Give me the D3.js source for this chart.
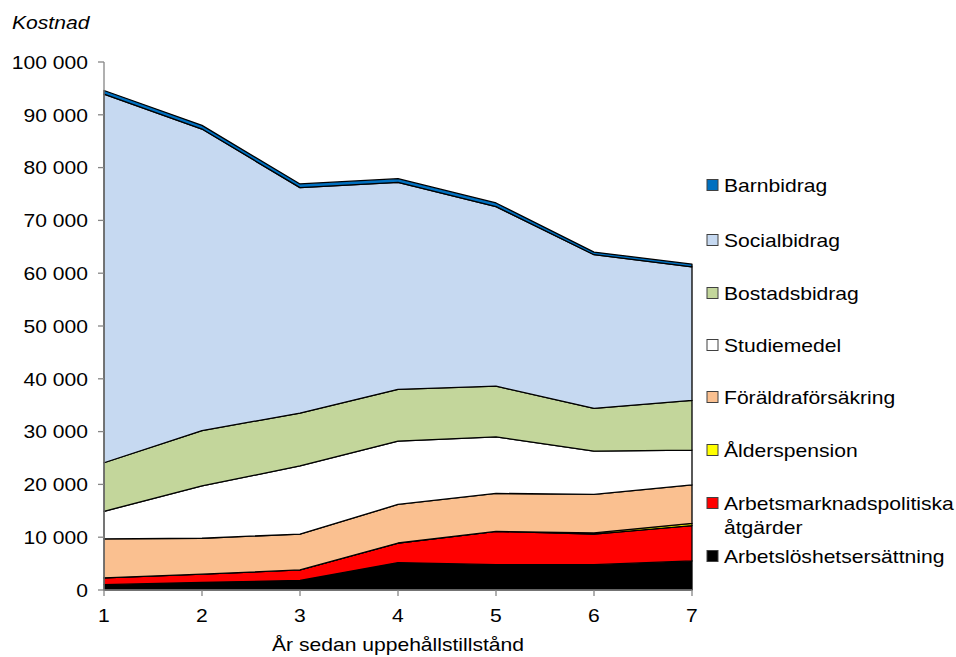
<!DOCTYPE html>
<html>
<head>
<meta charset="utf-8">
<script src="https://cdn.jsdelivr.net/npm/d3@7"></script>
<style>
  body { margin: 0; background: #fff; }
  text { font-family: "Liberation Sans", Arial, sans-serif; fill: #000; }
</style>
</head>
<body>
<svg id="chart" width="956" height="657"></svg>
<script>
const years = [1, 2, 3, 4, 5, 6, 7];
const seriesNames = ["Arbetslöshetsersättning", "Arbetsmarknadspolitiska åtgärder", "Ålderspension",
  "Föräldraförsäkring", "Studiemedel", "Bostadsbidrag", "Socialbidrag", "Barnbidrag"];
const arbetsloshet   = [1000, 1450, 1800, 5200, 4800, 4800, 5500];
const arbetsmarknad  = [1300, 1550, 2000, 3700, 6300, 5800, 6700];
const alderspension  = [0, 0, 0, 0, 0, 200, 400];
const foraldra       = [7400, 6800, 6800, 7300, 7200, 7300, 7300];
const studiemedel    = [5200, 9900, 12900, 12000, 10700, 8200, 6600];
const bostadsbidrag  = [9200, 10500, 10000, 9800, 9600, 8100, 9400];
const socialbidrag   = [69800, 57100, 42700, 39200, 34000, 29100, 25300];
const barnbidrag     = [700, 700, 700, 700, 700, 500, 500];
const colors = ["#000000", "#FF0000", "#FFFF00", "#FAC090", "#FFFFFF", "#C3D69B", "#C6D9F1", "#0070C0"];
const yTicks = [0, 10000, 20000, 30000, 40000, 50000, 60000, 70000, 80000, 90000, 100000];

const seriesValues = [arbetsloshet, arbetsmarknad, alderspension, foraldra, studiemedel, bostadsbidrag, socialbidrag, barnbidrag];
const table = years.map((yr, i) => {
  const row = { year: yr };
  seriesNames.forEach((n, k) => row[n] = seriesValues[k][i]);
  return row;
});

const svg = d3.select("#chart");
const x = d3.scaleLinear().domain([1, 7]).range([104, 692]);
const y = d3.scaleLinear().domain([0, 100000]).range([590, 62]);
const fmt = d3.formatLocale({ decimal: ",", thousands: " ", grouping: [3], currency: ["", ""] }).format(",");

const stack = d3.stack().keys(seriesNames);
const layers = stack(table);
const area = d3.area().x(d => x(d.data.year)).y0(d => y(d[0])).y1(d => y(d[1]));

svg.append("g").selectAll("path").data(layers).join("path")
  .attr("d", area)
  .attr("fill", (d, i) => colors[i])
  .attr("stroke", "#000")
  .attr("stroke-width", 1.3)
  .attr("stroke-linejoin", "round");

// Y axis
const yAxis = svg.append("g");
yAxis.append("line").attr("x1", 104).attr("x2", 104).attr("y1", y(0)).attr("y2", y(100000))
  .attr("stroke", "#868686").attr("stroke-width", 1.3);
yAxis.selectAll("line.t").data(yTicks).join("line").attr("class", "t")
  .attr("x1", 98).attr("x2", 104).attr("y1", d => y(d)).attr("y2", d => y(d))
  .attr("stroke", "#868686").attr("stroke-width", 1.3);
yAxis.selectAll("text").data(yTicks).join("text")
  .attr("class", "st")
  .attr("x", 88).attr("y", d => y(d) + 6.7)
  .attr("text-anchor", "end").attr("font-size", 18.5)
  .text(d => fmt(d));

// X axis
const xAxis = svg.append("g");
xAxis.append("line").attr("x1", 104).attr("x2", 692).attr("y1", y(0)).attr("y2", y(0))
  .attr("stroke", "#868686").attr("stroke-width", 1.3);
xAxis.selectAll("line.t").data(years).join("line").attr("class", "t")
  .attr("x1", d => x(d)).attr("x2", d => x(d)).attr("y1", y(0)).attr("y2", y(0) + 6)
  .attr("stroke", "#868686").attr("stroke-width", 1.3);
xAxis.selectAll("text").data(years).join("text")
  .attr("class", "st")
  .attr("x", d => x(d)).attr("y", 622)
  .attr("text-anchor", "middle").attr("font-size", 18.5)
  .text(d => d);

svg.append("text").attr("class", "st").attr("x", 398).attr("y", 651).attr("text-anchor", "middle")
  .attr("font-size", 18.5).text("År sedan uppehållstillstånd");
svg.append("text").attr("class", "st").attr("x", 12).attr("y", 29).attr("font-size", 18.5)
  .attr("font-style", "italic").text("Kostnad");

// Legend
const legendItems = [
  { k: 7, y: 185, lines: ["Barnbidrag"] },
  { k: 6, y: 240, lines: ["Socialbidrag"] },
  { k: 5, y: 293, lines: ["Bostadsbidrag"] },
  { k: 4, y: 345, lines: ["Studiemedel"] },
  { k: 3, y: 397, lines: ["Föräldraförsäkring"] },
  { k: 2, y: 450, lines: ["Ålderspension"] },
  { k: 1, y: 503, lines: ["Arbetsmarknadspolitiska", "åtgärder"] },
  { k: 0, y: 556, lines: ["Arbetslöshetsersättning"] }
];
const lg = svg.append("g").selectAll("g").data(legendItems).join("g");
lg.append("rect").attr("x", 707).attr("y", d => d.y - 5.5).attr("width", 11).attr("height", 11)
  .attr("fill", d => colors[d.k]).attr("stroke", "#404040").attr("stroke-width", 1);
lg.each(function(d) {
  d.lines.forEach((ln, j) => {
    d3.select(this).append("text").attr("class", "st")
      .attr("x", 724).attr("y", d.y + 6.7 + j * 24).attr("font-size", 18.5).text(ln);
  });
});

// Horizontal stretch to match reference proportions
svg.selectAll("text.st").each(function() {
  const w = this.getComputedTextLength();
  d3.select(this).attr("textLength", w * 1.14).attr("lengthAdjust", "spacingAndGlyphs");
});
</script>
</body>
</html>
